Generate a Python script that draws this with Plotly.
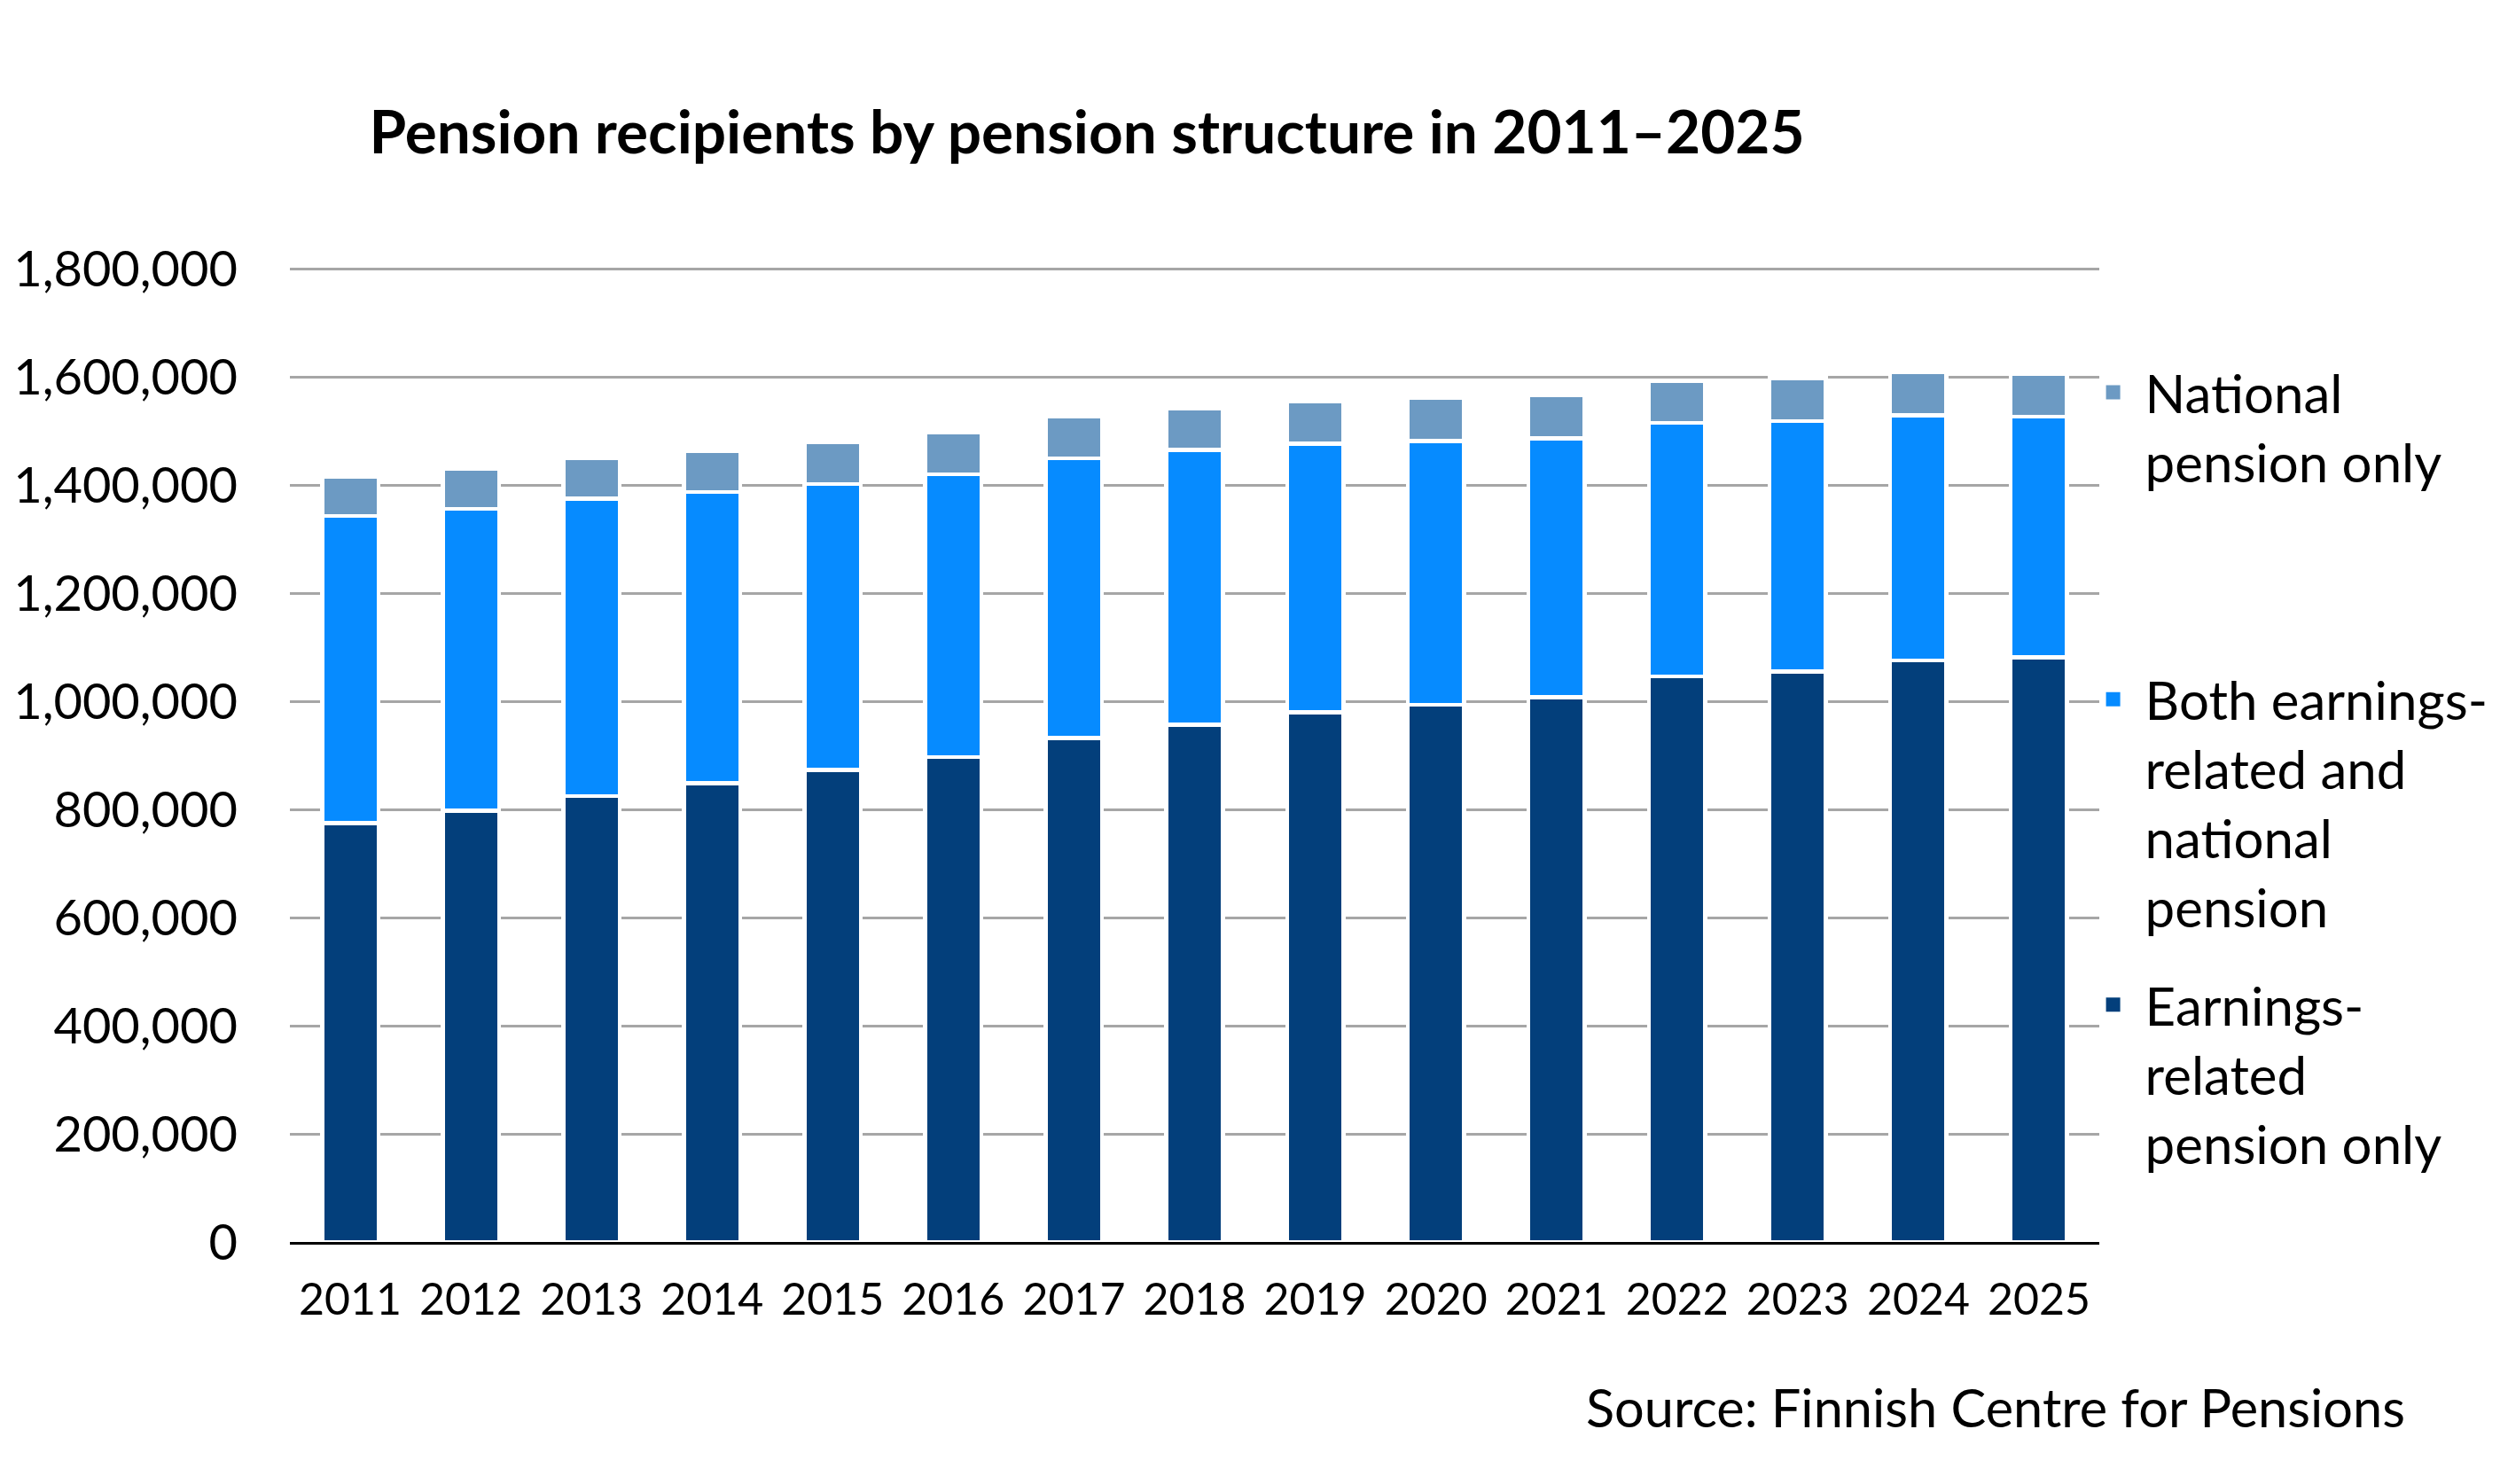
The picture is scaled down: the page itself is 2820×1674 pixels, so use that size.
import plotly.graph_objects as go

years = ["2011", "2012", "2013", "2014", "2015", "2016", "2017", "2018",
         "2019", "2020", "2021", "2022", "2023", "2024", "2025"]
earnings_only = [775000, 798000, 825000, 849000, 874000, 897000, 933000, 957000,
                 980000, 994000, 1008000, 1047000, 1056000, 1076000, 1082000]
both_pensions = [569000, 559000, 551000, 539000, 529000, 524000, 517000, 509000,
                 497000, 488000, 479000, 469000, 463000, 454000, 445000]
national_only = [73000, 74000, 75000, 75000, 77000, 77000, 77000, 77000,
                 78000, 80000, 80000, 78000, 80000, 80000, 80000]
y_ticks = [0, 200000, 400000, 600000, 800000, 1000000, 1200000, 1400000, 1600000, 1800000]

names = ["Earnings-<br>related<br>pension only",
         "Both earnings-<br>related and<br>national<br>pension",
         "National<br>pension only"]
colors = ["#033F7B", "#068BFF", "#6C9AC3"]
series = [earnings_only, both_pensions, national_only]
legends = ["legend3", "legend2", "legend"]

FONT = "Lato"
fig = go.Figure()
for vals, col in zip(series, colors):
    fig.add_trace(go.Bar(x=years, y=vals, marker=dict(color=col, line=dict(color="white", width=4.5)),
                         showlegend=False))
# legend-only markers
for name, col, lg in zip(names, colors, legends):
    fig.add_trace(go.Scatter(x=[None], y=[None], mode="markers", name=name, legend=lg,
                             marker=dict(symbol="square", size=16, color=col)))

leg_common = dict(font=dict(family=FONT, size=60, color="black"), valign="top",
                  itemwidth=62, bgcolor="rgba(0,0,0,0)", xanchor="left", yanchor="top",
                  itemsizing="trace")
fig.update_layout(
    width=2812, height=1666,
    paper_bgcolor="white", plot_bgcolor="white",
    margin=dict(l=319, r=452, t=294, b=273, autoexpand=False),
    barmode="stack", bargap=0.533,
    font=dict(family=FONT, size=56, color="black"),
    title=dict(text="<b>Pension recipients by pension structure in 2011–2025</b>",
               font=dict(family=FONT, size=67.5, color="black"),
               x=0.4405, xref="paper", xanchor="center", y=0.9154, yref="container", yanchor="middle"),
    legend=dict(x=0.99, y=0.9135, **leg_common),
    legend2=dict(x=0.99, y=0.5985, **leg_common),
    legend3=dict(x=0.99, y=0.2850, **leg_common),
    annotations=[dict(text="Source: Finnish Centre for Pensions", xref="paper", yref="paper",
                      x=1.17, y=-0.169, xanchor="right", yanchor="middle", showarrow=False,
                      font=dict(family=FONT, size=59.5, color="black"))],
)
fig.update_xaxes(type="category", showline=True, linecolor="black", linewidth=3,
                 ticks="", tickangle=0, tickfont=dict(family=FONT, size=50, color="black"),
                 ticklabelstandoff=19, showgrid=False)
fig.update_yaxes(range=[0, 1803000], tickvals=y_ticks, tickformat=",d", showgrid=True,
                 gridcolor="#A6A6A6", gridwidth=2.5, zeroline=False, showline=False,
                 ticks="", tickfont=dict(family=FONT, size=56, color="black"),
                 ticklabelstandoff=58)
fig.write_html("out.html")
